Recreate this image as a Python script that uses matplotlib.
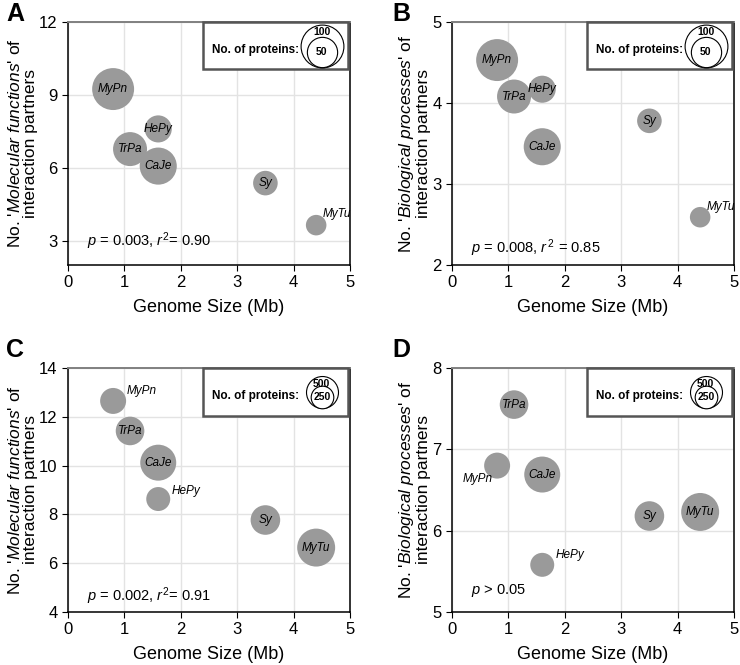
import matplotlib as mpl
import matplotlib.pyplot as plt
from matplotlib import transforms
from matplotlib.patches import Rectangle

mpl.use("Agg")
mpl.rcParams["font.family"] = ["Liberation Sans", "DejaVu Sans"]
mpl.rcParams["mathtext.fontset"] = "custom"
mpl.rcParams["mathtext.rm"] = "Liberation Sans"
mpl.rcParams["mathtext.it"] = "Liberation Sans:italic"
mpl.rcParams["mathtext.bf"] = "Liberation Sans:bold"

# DATA
species = ["MyPn", "TrPa", "HePy", "CaJe", "Sy", "MyTu"]
genome_size = [0.8, 1.1, 1.6, 1.6, 3.5, 4.4]

mf_ab = [9.24, 6.77, 7.6, 6.07, 5.37, 3.64]
bp_ab = [4.53, 4.08, 4.17, 3.46, 3.78, 2.59]
proteins_ab = [96, 63, 40, 75, 33, 23]

mf_cd = [12.65, 11.42, 8.63, 10.12, 7.77, 6.64]
bp_cd = [6.80, 7.55, 5.58, 6.69, 6.18, 6.23]
proteins_cd = [330, 400, 281, 633, 428, 705]

legend_ab = [100, 50]
legend_cd = [500, 250]

# label placement: inside the circle unless listed, then offset in points
outside_a = {"MyTu": (5, 8, "left")}
outside_b = {"MyTu": (5, 7, "left")}
outside_c = {"MyPn": (10, 7, "left"), "HePy": (10, 6, "left")}
outside_d = {"MyPn": (-3, -10, "right"), "HePy": (10, 7, "left")}

GREY = "#9a9a9a"

fig = plt.figure(figsize=(7.4, 6.65), dpi=100)
W, H = 740, 665


def add_ax(left, top, right, bottom):
    return fig.add_axes([left / W, 1 - bottom / H, (right - left) / W, (bottom - top) / H])


def panel(ax, yvals, prot, scale, ylim, yticks, ylabel, stat, stat_y, outside, leg, letter):
    ax.set_xlim(0, 5)
    ax.set_ylim(*ylim)
    ax.set_xticks(range(6))
    ax.set_yticks(yticks)
    ax.grid(True, color="#e3e3e3", lw=1)
    ax.set_axisbelow(True)
    ax.tick_params(direction="out", length=4, labelsize=12, top=False, right=False)
    for s in ["left", "bottom"]:
        ax.spines[s].set_color("black")
        ax.spines[s].set_linewidth(1.1)
    ax.spines["top"].set_color("#808080")
    ax.spines["top"].set_linewidth(1.4)
    ax.spines["right"].set_color("#333333")
    ax.spines["right"].set_linewidth(1.4)

    sizes = [p * scale for p in prot]
    ax.scatter(genome_size, yvals, s=sizes, color=GREY, edgecolors="none", zorder=3)
    for name, x, y in zip(species, genome_size, yvals):
        if name in outside:
            dx, dy, ha = outside[name]
            ax.annotate(name, (x, y), xytext=(dx, dy), textcoords="offset points",
                        ha=ha, va="center", fontsize=8.5, style="italic", zorder=4)
        else:
            ax.text(x, y, name, ha="center", va="center", fontsize=8.5, style="italic", zorder=4)

    ax.set_xlabel("Genome Size (Mb)", fontsize=13, labelpad=6)
    ax.set_ylabel(ylabel, fontsize=12.5, labelpad=1, linespacing=1.0)
    ax.text(0.34, stat_y, stat, fontsize=10.5, va="center", ha="left")

    # bubble size legend box
    ax.add_patch(Rectangle((0.478, 0.805), 0.516, 0.193, transform=ax.transAxes,
                           facecolor="white", edgecolor="#555555", lw=1.8, zorder=5, clip_on=False))
    ax.text(0.665, 0.885, "No. of proteins:", transform=ax.transAxes, fontsize=8.5,
            fontweight="bold", ha="center", va="center", zorder=6)
    cx, cy = 0.9, 0.902
    big, small = leg
    r_big = (big * scale) ** 0.5 / 2
    r_small = (small * scale) ** 0.5 / 2
    ax.scatter([cx], [cy], s=big * scale, transform=ax.transAxes, facecolor="white",
               edgecolor="black", lw=0.8, zorder=6, clip_on=False)
    tr_small = transforms.offset_copy(ax.transAxes, fig=fig, y=-(r_big - r_small), units="points")
    ax.scatter([cx], [cy], s=small * scale, transform=tr_small, facecolor="white",
               edgecolor="black", lw=0.8, zorder=7, clip_on=False)
    ax.text(cx, cy, str(small), transform=tr_small, fontsize=7.5, fontweight="bold",
            ha="center", va="center", zorder=8)
    tr_big = transforms.offset_copy(ax.transAxes, fig=fig, y=r_big - 5.5, units="points")
    ax.text(cx, cy, str(big), transform=tr_big, fontsize=7.5, fontweight="bold",
            ha="center", va="center", zorder=8)

    fig.text(letter[1] / W, 1 - letter[2] / H, letter[0], fontsize=18, fontweight="bold",
             ha="left", va="center")


ax_a = add_ax(68, 22, 350, 265)
ax_b = add_ax(452, 22, 734, 265)
ax_c = add_ax(68, 368, 350, 612)
ax_d = add_ax(452, 368, 734, 612)

mf_label = "No. '$\\mathit{Molecular\\ functions}$' of\ninteraction partners"
bp_label = "No. '$\\mathit{Biological\\ processes}$' of\ninteraction partners"

panel(ax_a, mf_ab, proteins_ab, 9.5, (2, 12), [3, 6, 9, 12], mf_label,
      "$p$ = 0.003, $r^2$= 0.90", 3.0, outside_a, legend_ab, ("A", 6, 14))
panel(ax_b, bp_ab, proteins_ab, 9.5, (2, 5), [2, 3, 4, 5], bp_label,
      "$p$ = 0.008, $r^{\\,2}$ = 0.85", 2.21, outside_b, legend_ab, ("B", 392, 14))
panel(ax_c, mf_cd, proteins_cd, 1.06, (4, 14), [4, 6, 8, 10, 12, 14], mf_label,
      "$p$ = 0.002, $r^2$= 0.91", 4.66, outside_c, legend_cd, ("C", 6, 350))
panel(ax_d, bp_cd, proteins_cd, 1.06, (5, 8), [5, 6, 7, 8], bp_label,
      "$p$ > 0.05", 5.27, outside_d, legend_cd, ("D", 392, 350))

fig.savefig("out.png", dpi=100)
